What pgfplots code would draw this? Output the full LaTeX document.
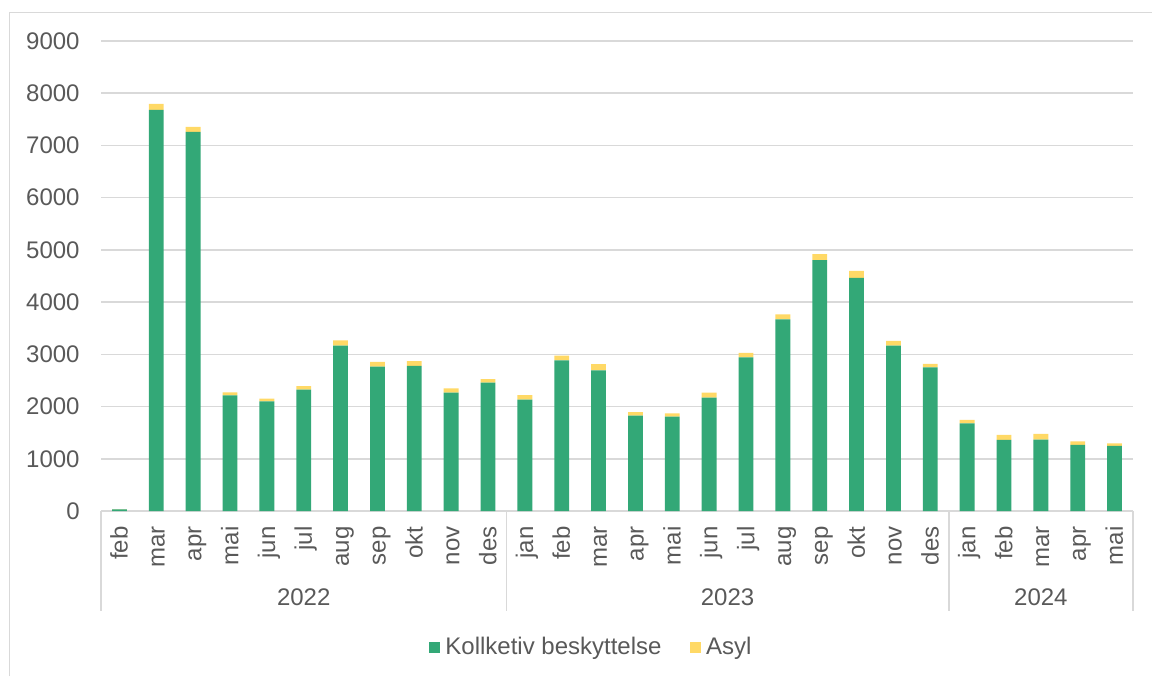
\documentclass[border=0pt]{standalone}
\usepackage{fontspec}
\setmainfont{Liberation Sans}
\usepackage{pgfplots}
\pgfplotsset{compat=1.18}
\definecolor{kgreen}{HTML}{33A877}
\definecolor{kyellow}{HTML}{FFD966}
\definecolor{txtgray}{HTML}{595959}
\definecolor{gridgray}{HTML}{D9D9D9}
\begin{document}
\fontsize{12}{14.4}\selectfont
\begin{tikzpicture}
\useasboundingbox (0,0) rectangle (576pt,338pt);
\draw[gridgray, line width=0.6pt] (4.75pt,0) -- (4.75pt,331.85pt) -- (576pt,331.85pt);
\begin{axis}[
  at={(50.5pt,82.5pt)}, anchor=south west,
  scale only axis, width=516pt, height=235pt,
  ybar stacked, bar width=7.4pt,
  xmin=-0.5, xmax=27.5, ymin=0, ymax=9000,
  ytick={0,1000,...,9000},
  xtick={0,...,27},
  xticklabels={feb,mar,apr,mai,jun,jul,aug,sep,okt,nov,des,jan,feb,mar,apr,mai,jun,jul,aug,sep,okt,nov,des,jan,feb,mar,apr,mai},
  scaled y ticks=false,
  /pgf/number format/1000 sep={},
  /pgf/number format/assume math mode=true,
  major tick length=0pt,
  axis x line*=bottom, axis y line*=left,
  y axis line style={draw=none},
  x axis line style={gridgray, line width=0.8pt},
  ymajorgrids, grid style={gridgray, line width=0.8pt},
  tick label style={font=\fontsize{12}{14.4}\selectfont, text=txtgray},
  yticklabel style={anchor=east, inner sep=0pt, xshift=-10.5pt},
  xticklabel style={yshift=-7.5pt, rotate=90, anchor=east, inner sep=0pt, text height=0.9em, text depth=0.21em},
  clip=false,
  legend style={at={(0.474,-0.29)}, anchor=center, draw=none, fill=none,
    font=\fontsize{12}{14.4}\selectfont, text=txtgray,
    nodes={inner sep=0pt},
    /tikz/every odd column/.append style={column sep=2.5pt},
    /tikz/every even column/.append style={column sep=14pt}},
  legend columns=2,
  legend image code/.code={\fill[#1] (0pt,-2.9pt) rectangle (5.8pt,2.9pt);},
]
\addplot[fill=kgreen, draw=none] coordinates {
 (0,30) (1,7680) (2,7260) (3,2215) (4,2100) (5,2323) (6,3166) (7,2764) (8,2777) (9,2266) (10,2457)
 (11,2131) (12,2885) (13,2694) (14,1825) (15,1806) (16,2170) (17,2943) (18,3670) (19,4806) (20,4462) (21,3166) (22,2751)
 (23,1679) (24,1360) (25,1366) (26,1264) (27,1245)};
\addplot[fill=kyellow, draw=none] coordinates {
 (0,8) (1,115) (2,95) (3,58) (4,50) (5,70) (6,100) (7,90) (8,95) (9,83) (10,70)
 (11,90) (12,90) (13,120) (14,70) (15,65) (16,95) (17,83) (18,96) (19,115) (20,134) (21,90) (22,64)
 (23,64) (24,100) (25,110) (26,70) (27,50)};
\legend{Kollketiv beskyttelse, Asyl}
\draw[gridgray, line width=0.8pt] (axis cs:-0.5,0) -- ([yshift=-50pt]axis cs:-0.5,0);
\draw[gridgray, line width=0.8pt] (axis cs:10.5,0) -- ([yshift=-50pt]axis cs:10.5,0);
\draw[gridgray, line width=0.8pt] (axis cs:22.5,0) -- ([yshift=-50pt]axis cs:22.5,0);
\draw[gridgray, line width=0.8pt] (axis cs:27.5,0) -- ([yshift=-50pt]axis cs:27.5,0);
\node[text=txtgray] at ([yshift=-43pt]axis cs:5,0) {2022};
\node[text=txtgray] at ([yshift=-43pt]axis cs:16.5,0) {2023};
\node[text=txtgray] at ([yshift=-43pt]axis cs:25,0) {2024};
\end{axis}
\end{tikzpicture}
\end{document}
